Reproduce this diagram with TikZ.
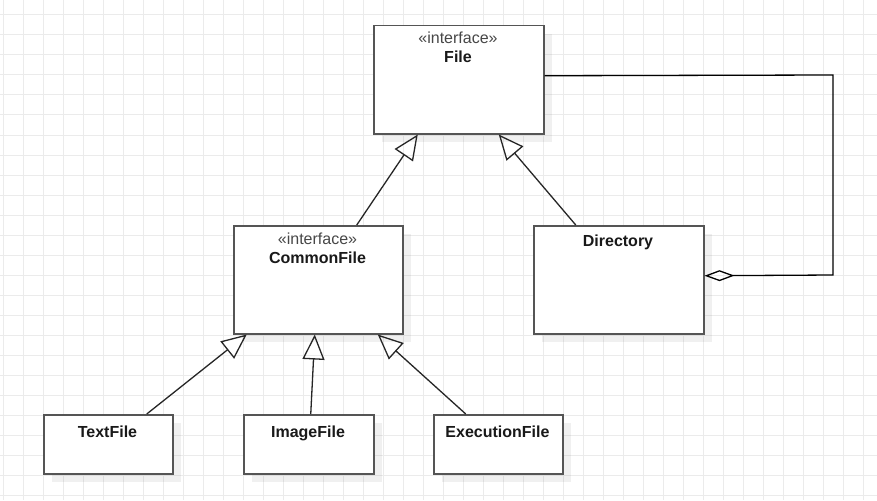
\documentclass[tikz,border=0pt]{standalone}
\usepackage{fontspec}
\setmainfont{Liberation Sans}
\usetikzlibrary{arrows.meta,shadows}
\definecolor{gridc}{HTML}{EBEBEB}
\definecolor{boxc}{HTML}{555555}
\tikzset{
  umlbox/.style={draw=boxc, fill=white, line width=1.5pt, rectangle, anchor=north west, inner sep=0pt,
    drop shadow={shadow xshift=8pt, shadow yshift=-8pt, fill=black, opacity=0.06}},
  stereo/.style={font=\fontsize{16}{18}\selectfont, text=black!72, text height=11.5pt, text depth=3.5pt},
  title/.style={font=\fontsize{16}{18}\selectfont\bfseries, text=black!90, text height=11.5pt, text depth=3.5pt},
  inh/.style={draw=black!85, line width=1.3pt, -{Triangle[open, length=25pt, width=22pt, line width=1.3pt]}},
  agg/.style={draw=black, line width=1.3pt, {Diamond[open, length=30pt, width=11pt, line width=1.3pt]}-},
}
\begin{document}
\begin{tikzpicture}[x=1pt, y=-1pt]
\useasboundingbox (0,0) rectangle (877,500);
\fill[white] (0,0) rectangle (877,500);
% grid
\foreach \i in {0,...,43} { \draw[gridc, line width=1pt] (3.3+20*\i,0) -- (3.3+20*\i,500); }
\foreach \j in {0,...,24} { \draw[gridc, line width=1pt] (0,15+20*\j) -- (877,15+20*\j); }
% boxes
\node[umlbox, minimum width=170pt, minimum height=108pt] (file) at (373,25) {};
\node[umlbox, minimum width=169pt, minimum height=108pt] (cf) at (233,225) {};
\node[umlbox, minimum width=170pt, minimum height=108pt] (dir) at (533,225) {};
\node[umlbox, minimum width=129pt, minimum height=59pt] (tf) at (43,414) {};
\node[umlbox, minimum width=130pt, minimum height=59pt] (imf) at (243,414) {};
\node[umlbox, minimum width=129pt, minimum height=59pt] (ef) at (433,414) {};
% labels
\node[stereo] (fileS) at (458,40) {«interface»};
\node[title] (fileT) at (458,59) {File};
\node[stereo] (cfS) at (317.5,240) {«interface»};
\node[title] (cfT) at (317.5,259) {CommonFile};
\node[title] (dirT) at (618,242) {Directory};
\node[title] (tfT) at (107.5,433) {TextFile};
\node[title] (imfT) at (308,433) {ImageFile};
\node[title] (efT) at (497.5,433) {ExecutionFile};
% inheritance
\draw[inh] ([xshift=38.5pt]cf.north) -- ([xshift=-41pt]file.south);
\draw[inh] ([xshift=-43pt]dir.north) -- ([xshift=40pt]file.south);
\draw[inh] ([xshift=38.5pt]tf.north) -- ([xshift=-71.5pt]cf.south);
\draw[inh] ([xshift=2pt]imf.north) -- ([xshift=-3.5pt]cf.south);
\draw[inh] ([xshift=-32.5pt]ef.north) -- ([xshift=59.5pt]cf.south);
% aggregation
\coordinate (c1) at (833,75);
\coordinate (c2) at (833,275);
\draw[agg] ([yshift=4pt]dir.east) -- (c2) -- (c1) -- ([yshift=4pt]file.east);
\end{tikzpicture}
\end{document}
